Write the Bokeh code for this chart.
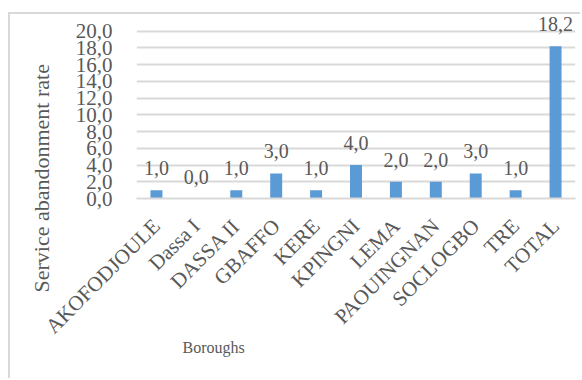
import math
from bokeh.plotting import figure
from bokeh.models import ColumnDataSource, FactorRange, Range1d, FixedTicker, LabelSet, Title
from bokeh.embed import file_html
from bokeh.resources import INLINE

boroughs = ["AKOFODJOULE", "Dassa I", "DASSA II", "GBAFFO", "KERE", "KPINGNI",
            "LEMA", "PAOUINGNAN", "SOCLOGBO", "TRE", "TOTAL"]
rates = [1.0, 0.0, 1.0, 3.0, 1.0, 4.0, 2.0, 2.0, 3.0, 1.0, 18.2]
rate_labels = ["1,0", "0,0", "1,0", "3,0", "1,0", "4,0", "2,0", "2,0", "3,0", "1,0", "18,2"]
y_ticks = [0, 2, 4, 6, 8, 10, 12, 14, 16, 18, 20]
y_tick_labels = ["0,0", "2,0", "4,0", "6,0", "8,0", "10,0", "12,0", "14,0", "16,0", "18,0", "20,0"]
y_title = "Service abandonment rate"
x_title = "Boroughs"

FONT = "Liberation Serif"
TXT = "#595959"
GRID = "#d9d9d9"

source = ColumnDataSource(dict(x=boroughs, y=rates, lab=rate_labels))

p = figure(x_range=FactorRange(*boroughs, range_padding=0), y_range=Range1d(0, 22),
           width=572, height=366, output_backend="svg", toolbar_location=None,
           min_border_left=125, min_border_right=7, min_border_top=0, min_border_bottom=182)
p.styles = {"margin-left": "8px", "margin-top": "12px",
            "border-left": "2px solid #d9d9d9", "border-top": "2px solid #d9d9d9"}
p.outline_line_color = None

p.vbar(x="x", top="y", width=0.3, source=source, fill_color="#5b9bd5", line_color=None)

labels = LabelSet(x="x", y="y", text="lab", source=source, text_align="center",
                  text_baseline="alphabetic", y_offset=15, text_font=FONT,
                  text_font_size="20px", text_color=TXT)
p.add_layout(labels)

p.yaxis.ticker = FixedTicker(ticks=y_ticks)
p.yaxis.major_label_overrides = {t: l for t, l in zip(y_ticks, y_tick_labels)}
p.yaxis.axis_line_color = None
p.yaxis.major_tick_line_color = None
p.yaxis.minor_tick_line_color = None
p.yaxis.major_label_standoff = 18
p.yaxis.major_label_text_font = FONT
p.yaxis.major_label_text_font_size = "21px"
p.yaxis.major_label_text_color = TXT

p.xaxis.axis_line_color = GRID
p.xaxis.axis_line_width = 2
p.xaxis.major_tick_line_color = None
p.xaxis.minor_tick_line_color = None
p.xaxis.major_label_orientation = math.pi / 4
p.xaxis.major_label_standoff = 18
p.xaxis.major_label_text_font = FONT
p.xaxis.major_label_text_font_size = "21px"
p.xaxis.major_label_text_color = TXT

p.xgrid.grid_line_color = None
p.ygrid.grid_line_color = GRID
p.ygrid.grid_line_width = 2

p.add_layout(Title(text=y_title, align="left", offset=-94, vertical_align="middle",
                   standoff=35, text_font=FONT, text_font_size="22px",
                   text_font_style="normal", text_color=TXT), "left")
p.add_layout(Title(text=x_title, align="left", offset=46, vertical_align="top",
                   standoff=-22, text_font=FONT, text_font_size="16px",
                   text_font_style="normal", text_color=TXT), "below")

open("out.html", "w").write(file_html(p, INLINE))
